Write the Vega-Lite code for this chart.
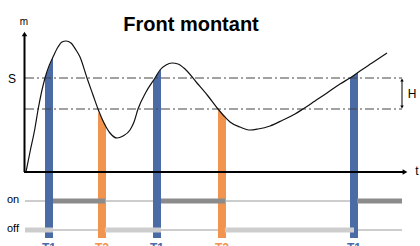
{
  "$schema": "https://vega.github.io/schema/vega-lite/v6.json",
  "width": 420,
  "height": 246,
  "padding": 0,
  "autosize": {"type": "none"},
  "background": "white",
  "config": {"view": {"stroke": null}},
  "datasets": {
    "curve": [
      {"t": 1, "m": 0}, {"t": 5, "m": 20}, {"t": 10, "m": 44}, {"t": 13, "m": 62},
      {"t": 20, "m": 94}, {"t": 24, "m": 106}, {"t": 28, "m": 115}, {"t": 33, "m": 125},
      {"t": 37, "m": 130}, {"t": 41, "m": 131}, {"t": 46, "m": 129}, {"t": 51, "m": 122},
      {"t": 55, "m": 115}, {"t": 62, "m": 94}, {"t": 68, "m": 77}, {"t": 73, "m": 63},
      {"t": 79, "m": 49}, {"t": 85, "m": 39}, {"t": 92, "m": 34}, {"t": 98, "m": 36},
      {"t": 105, "m": 42}, {"t": 109, "m": 50}, {"t": 113, "m": 63}, {"t": 121, "m": 80},
      {"t": 130, "m": 94}, {"t": 135, "m": 102}, {"t": 141, "m": 107}, {"t": 147, "m": 109},
      {"t": 153, "m": 108}, {"t": 160, "m": 103}, {"t": 172, "m": 89}, {"t": 183, "m": 76},
      {"t": 193, "m": 63}, {"t": 199, "m": 56}, {"t": 205, "m": 50}, {"t": 215, "m": 45},
      {"t": 225, "m": 42}, {"t": 233, "m": 43}, {"t": 245, "m": 46}, {"t": 258, "m": 52},
      {"t": 270, "m": 58}, {"t": 278, "m": 63}, {"t": 290, "m": 71}, {"t": 302, "m": 79},
      {"t": 315, "m": 88}, {"t": 325, "m": 94}, {"t": 335, "m": 101}, {"t": 347, "m": 109},
      {"t": 362, "m": 119}
    ],
    "bars": [
      {"bar": "b1", "kind": "T1", "t": 20, "m": 94, "m2": -66},
      {"bar": "b1", "kind": "T1", "t": 28, "m": 115, "m2": -66},
      {"bar": "o1", "kind": "T2", "t": 73, "m": 60, "m2": -66},
      {"bar": "o1", "kind": "T2", "t": 81, "m": 47, "m2": -66},
      {"bar": "b2", "kind": "T1", "t": 128, "m": 91, "m2": -66},
      {"bar": "b2", "kind": "T1", "t": 136, "m": 103, "m2": -66},
      {"bar": "o2", "kind": "T2", "t": 193, "m": 62, "m2": -66},
      {"bar": "o2", "kind": "T2", "t": 201, "m": 55, "m2": -66},
      {"bar": "b3", "kind": "T1", "t": 325, "m": 94, "m2": -66},
      {"bar": "b3", "kind": "T1", "t": 333, "m": 100, "m2": -66}
    ],
    "barLabels": [
      {"kind": "T1", "t": 24, "m": -71},
      {"kind": "T2", "t": 77, "m": -71},
      {"kind": "T1", "t": 132, "m": -71},
      {"kind": "T2", "t": 197, "m": -71},
      {"kind": "T1", "t": 329, "m": -71}
    ],
    "levels": [
      {"level": "S", "t": 0, "t2": 377, "m": 94},
      {"level": "S-H", "t": 0, "t2": 377, "m": 63}
    ],
    "stateLines": [
      {"state": "on", "t": 0, "t2": 377, "m": -29},
      {"state": "off", "t": 0, "t2": 377, "m": -58}
    ],
    "segments": [
      {"state": "off", "t": 0, "t2": 28, "m": -58},
      {"state": "on", "t": 28, "t2": 80, "m": -29},
      {"state": "off", "t": 80, "t2": 136, "m": -58},
      {"state": "on", "t": 136, "t2": 200, "m": -29},
      {"state": "off", "t": 200, "t2": 329, "m": -58},
      {"state": "on", "t": 332, "t2": 377, "m": -29}
    ],
    "axesLines": [
      {"t": -0.5, "t2": -0.5, "m": 0, "m2": 137},
      {"t": -1, "t2": 379, "m": 0, "m2": 0}
    ],
    "arrowsUp": [{"t": -0.5, "m": 138}],
    "arrowsRight": [{"t": 380, "m": 0}],
    "bracket": [{"t": 377, "t2": 377, "m": 92, "m2": 65}],
    "bracketUp": [{"t": 377, "m": 92}],
    "bracketDown": [{"t": 377, "m": 65}],
    "labels": [
      {"label": "m", "t": -1, "m": 147, "size": "s"},
      {"label": "S", "t": -13, "m": 89, "size": "m"},
      {"label": "H", "t": 387, "m": 74, "size": "m"},
      {"label": "t", "t": 392, "m": -3, "size": "m"}
    ],
    "stateLabels": [
      {"label": "on", "t": -18, "m": -31},
      {"label": "off", "t": -18, "m": -60}
    ],
    "title": [{"label": "Front montant", "t": 166, "m": 141}]
  },
  "encoding": {
    "x": {"field": "t", "type": "quantitative", "scale": {"domain": [-25, 395], "nice": false, "zero": false}, "axis": null},
    "y": {"field": "m", "type": "quantitative", "scale": {"domain": [-74, 172], "nice": false, "zero": false}, "axis": null}
  },
  "layer": [
    {
      "data": {"name": "stateLines"},
      "mark": {"type": "rule", "color": "#9a9a9a", "strokeWidth": 1},
      "encoding": {"x2": {"field": "t2"}}
    },
    {
      "data": {"name": "bars"},
      "mark": {"type": "area", "opacity": 1},
      "encoding": {
        "y2": {"field": "m2"},
        "detail": {"field": "bar"},
        "color": {"field": "kind", "type": "nominal", "scale": {"domain": ["T1", "T2"], "range": ["#4b6ba7", "#f1944f"]}, "legend": null}
      }
    },
    {
      "data": {"name": "barLabels"},
      "mark": {"type": "text", "baseline": "top", "fontSize": 12, "fontWeight": "bold", "font": "Liberation Sans"},
      "encoding": {
        "text": {"field": "kind"},
        "color": {"field": "kind", "type": "nominal", "legend": null}
      }
    },
    {
      "data": {"name": "levels"},
      "mark": {"type": "rule", "color": "#444444", "strokeWidth": 1, "strokeDash": [9, 3, 2, 3]},
      "encoding": {"x2": {"field": "t2"}}
    },
    {
      "data": {"name": "segments"},
      "mark": {"type": "rule", "strokeWidth": 5, "strokeCap": "butt"},
      "encoding": {
        "x2": {"field": "t2"},
        "stroke": {"field": "state", "type": "nominal", "scale": {"domain": ["on", "off"], "range": ["#8b8b8b", "#cdcdcd"]}, "legend": null}
      }
    },
    {
      "data": {"name": "curve"},
      "mark": {"type": "line", "interpolate": "monotone", "color": "#111111", "strokeWidth": 1.2},
      "encoding": {}
    },
    {
      "data": {"name": "axesLines"},
      "mark": {"type": "rule", "color": "#000000", "strokeWidth": 2},
      "encoding": {"x2": {"field": "t2"}, "y2": {"field": "m2"}}
    },
    {
      "data": {"name": "arrowsUp"},
      "mark": {"type": "point", "shape": "triangle-up", "filled": true, "color": "#000000", "size": 30, "opacity": 1},
      "encoding": {}
    },
    {
      "data": {"name": "arrowsRight"},
      "mark": {"type": "point", "shape": "triangle-right", "filled": true, "color": "#000000", "size": 30, "opacity": 1},
      "encoding": {}
    },
    {
      "data": {"name": "bracket"},
      "mark": {"type": "rule", "color": "#000000", "strokeWidth": 1},
      "encoding": {"x2": {"field": "t2"}, "y2": {"field": "m2"}}
    },
    {
      "data": {"name": "bracketUp"},
      "mark": {"type": "point", "shape": "triangle-up", "filled": true, "color": "#000000", "size": 12, "opacity": 1},
      "encoding": {}
    },
    {
      "data": {"name": "bracketDown"},
      "mark": {"type": "point", "shape": "triangle-down", "filled": true, "color": "#000000", "size": 12, "opacity": 1},
      "encoding": {}
    },
    {
      "data": {"name": "labels"},
      "mark": {"type": "text", "baseline": "alphabetic", "align": "center", "font": "Liberation Sans", "fontSize": 12, "color": "#000000"},
      "encoding": {
        "text": {"field": "label"},
        "size": {"field": "size", "type": "nominal", "scale": {"domain": ["s", "m"], "range": [10, 12]}, "legend": null}
      }
    },
    {
      "data": {"name": "stateLabels"},
      "mark": {"type": "text", "baseline": "alphabetic", "align": "left", "font": "Liberation Sans", "fontSize": 11, "color": "#000000"},
      "encoding": {"text": {"field": "label"}}
    },
    {
      "data": {"name": "title"},
      "mark": {"type": "text", "baseline": "alphabetic", "align": "center", "font": "Liberation Sans", "fontSize": 20, "fontWeight": "bold", "color": "#000000"},
      "encoding": {"text": {"field": "label"}}
    }
  ]
}
